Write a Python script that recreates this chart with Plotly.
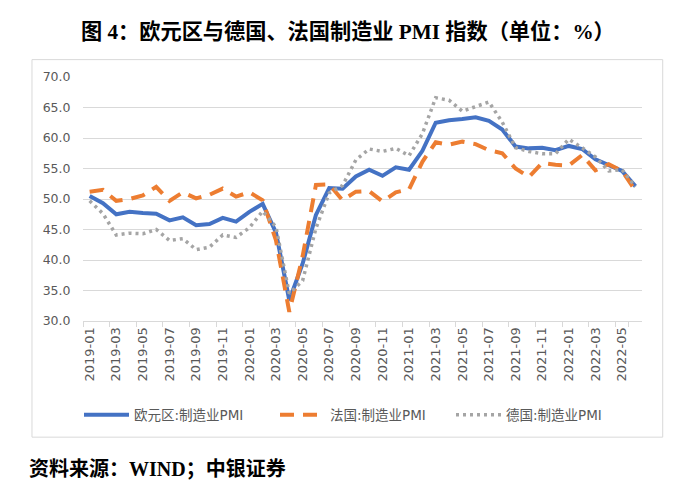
import plotly.graph_objects as go

# ---- data ----
months = [f"{y}-{m:02d}" for y in (2019, 2020, 2021) for m in range(1, 13)] + \
         [f"2022-{m:02d}" for m in range(1, 7)]

ez_pmi = [50.5, 49.3, 47.5, 47.9, 47.7, 47.6, 46.5, 47.0, 45.7, 45.9, 46.9, 46.3,
          47.9, 49.2, 44.5, 33.4, 39.4, 47.4, 51.8, 51.7, 53.7, 54.8, 53.8, 55.2,
          54.8, 57.9, 62.5, 62.9, 63.1, 63.4, 62.8, 61.4, 58.6, 58.3, 58.4, 58.0,
          58.7, 58.2, 56.5, 55.5, 54.6, 52.1]
fr_pmi = [51.2, 51.5, 49.7, 50.0, 50.6, 52.0, 49.7, 51.1, 50.1, 50.7, 51.7, 50.4,
          51.1, 49.8, 43.2, 31.5, 40.6, 52.3, 52.4, 49.8, 51.2, 51.3, 49.6, 51.1,
          51.6, 56.1, 59.3, 58.9, 59.4, 59.0, 58.0, 57.5, 55.0, 53.6, 55.9, 55.6,
          55.5, 57.2, 54.7, 55.7, 54.6, 51.4]
de_pmi = [49.7, 47.6, 44.1, 44.4, 44.3, 45.0, 43.2, 43.5, 41.7, 42.1, 44.1, 43.7,
          45.3, 48.0, 45.4, 34.5, 36.6, 45.2, 51.0, 52.2, 56.4, 58.2, 57.8, 58.3,
          57.1, 60.7, 66.6, 66.2, 64.4, 65.1, 65.9, 62.6, 58.4, 57.8, 57.4, 57.4,
          59.8, 58.4, 56.9, 54.6, 54.8, 52.0]

names = ["欧元区:制造业PMI", "法国:制造业PMI", "德国:制造业PMI"]
y_ticks = [30, 35, 40, 45, 50, 55, 60, 65, 70]

# page body has an 8px margin; figure sized to fit the window inside it
OFF = 8
W, H = 684 - OFF, 491 - OFF
L = 83.3 - OFF
T = 76.7 - OFF
R = W - (642 - OFF)
B = H - (321 - OFF)

TICKFONT = dict(family="DejaVu Sans, Noto Sans CJK SC", size=12.5, color="#595959")
XTICKFONT = dict(family="DejaVu Sans, Noto Sans CJK SC", size=13, color="#595959")
LEGFONT = dict(family="DejaVu Sans, Noto Sans CJK SC", size=13.5, color="#595959")

fig = go.Figure()
fig.add_trace(go.Scatter(x=months, y=ez_pmi, name=names[0], mode="lines",
                         line=dict(color="#4472C4", width=4), legend="legend"))
fig.add_trace(go.Scatter(x=months, y=fr_pmi, name=names[1], mode="lines",
                         line=dict(color="#ED7D31", width=4, dash="14px,9px"), legend="legend2"))
fig.add_trace(go.Scatter(x=months, y=de_pmi, name=names[2], mode="lines",
                         line=dict(color="#A5A5A5", width=3.5, dash="3px,4px"), legend="legend3"))

def leg(xpix):
    return dict(orientation="h", xref="container", yref="container",
                x=xpix / W, y=1 - 407 / H, xanchor="left", yanchor="middle",
                font=LEGFONT, bgcolor="rgba(0,0,0,0)", itemwidth=45,
                borderwidth=0)

pw = W - L - R
ph = H - T - B
def px_x(s):  # screen px -> paper fraction
    return (s - OFF - L) / pw
def px_y(s):
    return (H - B - (s - OFF)) / ph

fig.update_layout(
    width=W, height=H,
    margin=dict(l=L, r=R, t=T, b=B, autoexpand=False),
    paper_bgcolor="white", plot_bgcolor="white",
    showlegend=True,
    legend=leg(71), legend2=leg(267), legend3=leg(443),
    xaxis=dict(type="category", categoryorder="array", categoryarray=months,
               range=[-0.5, len(months) - 0.5],
               tickmode="array", tickvals=months[::2], ticktext=months[::2],
               tickson="boundaries", ticks="outside", ticklen=5,
               tickcolor="#d9d9d9", tickwidth=1,
               showline=True, linecolor="#d9d9d9", linewidth=1,
               showgrid=False, tickangle=-90, tickfont=XTICKFONT,
               zeroline=False, fixedrange=True, automargin=False),
    yaxis=dict(range=[30, 70], tickmode="array", tickvals=y_ticks,
               tickformat=".1f", showgrid=True, gridcolor="#d9d9d9", gridwidth=1,
               showline=False, zeroline=False, ticks="outside", ticklen=9,
               tickcolor="rgba(0,0,0,0)", tickfont=TICKFONT, fixedrange=True,
               automargin=False),
    shapes=[dict(type="rect", xref="paper", yref="paper",
                 x0=px_x(32.3), x1=px_x(662.7), y0=px_y(437.3), y1=px_y(59.3),
                 line=dict(color="#d9d9d9", width=1), fillcolor="rgba(0,0,0,0)",
                 layer="below")],
    annotations=[
        dict(text="<b>图 4：欧元区与德国、法国制造业 PMI 指数（单位：%）</b>",
             xref="paper", yref="paper", x=px_x(348.5), y=px_y(31),
             xanchor="center", yanchor="middle", showarrow=False,
             font=dict(family="Liberation Serif, Noto Sans CJK SC", size=21.2, color="black")),
        dict(text="<b>资料来源：WIND；中银证券</b>",
             xref="paper", yref="paper", x=px_x(27), y=px_y(469),
             xanchor="left", yanchor="middle", showarrow=False,
             font=dict(family="Liberation Serif, Noto Sans CJK SC", size=20, color="black")),
    ],
)

fig.write_html("out.html")
